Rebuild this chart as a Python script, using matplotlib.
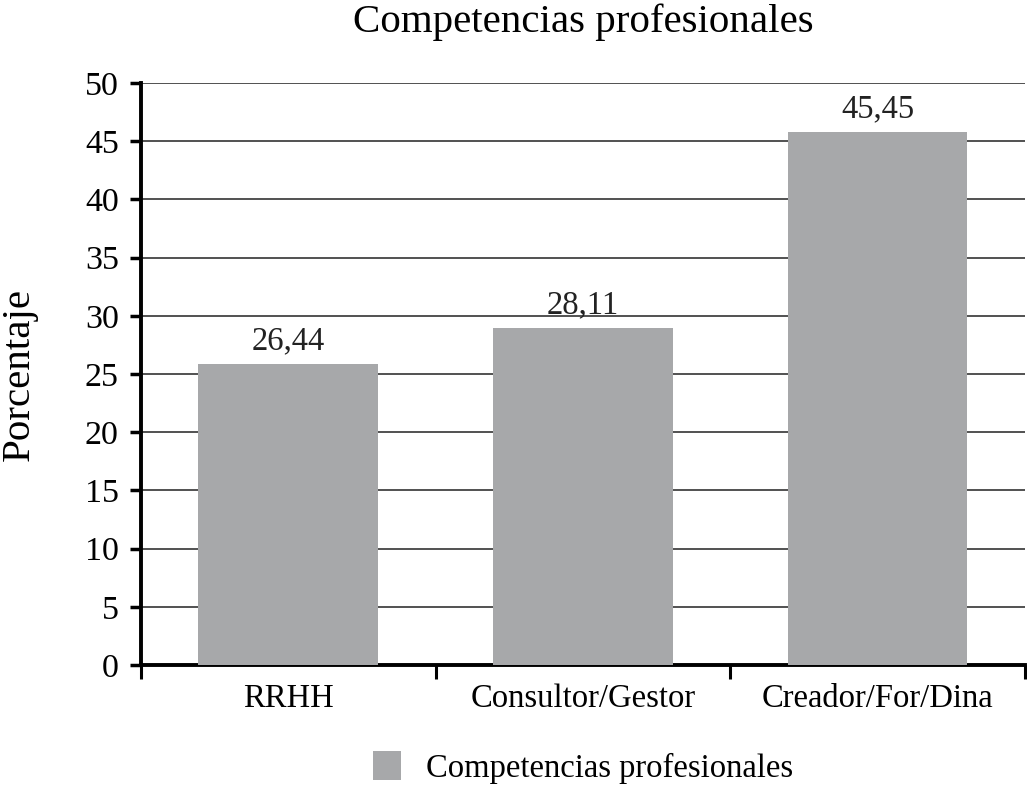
import matplotlib
matplotlib.use("Agg")
import matplotlib.pyplot as plt
from matplotlib.patches import Patch

plt.rcParams['font.family'] = ['Liberation Serif', 'DejaVu Serif']

# data
categories = ["RRHH", "Consultor/Gestor", "Creador/For/Dina"]
bar_heights = [25.9, 28.95, 45.8]
value_labels = ["26,44", "28,11", "45,45"]
y_ticks = [0, 5, 10, 15, 20, 25, 30, 35, 40, 45, 50]

fig = plt.figure(figsize=(10.27, 7.88), dpi=100)
ax = fig.add_axes([0.1373, 0.156, 0.8607, 0.7387])

x = list(range(len(categories)))
ax.bar(x, bar_heights, width=0.61, color="#a7a8aa", zorder=3)

for xi, h, lab in zip(x, bar_heights, value_labels):
    ax.text(xi, h + 0.65, lab, ha="center", va="bottom", fontsize=23.5, color="#222222")

ax.set_xlim(-0.5, 2.5)
ax.set_ylim(0, 50)
ax.set_yticks(y_ticks)
ax.yaxis.grid(True, color="#222222", linewidth=1.1, zorder=0)
ax.set_axisbelow(True)

# category boundaries as tick marks, labels centered on bars
ax.set_xticks([-0.5, 0.5, 1.5, 2.5])
ax.set_xticklabels([])
ax.set_xticks(x, minor=True)
ax.set_xticklabels(categories, minor=True, fontsize=23.5)
ax.tick_params(axis="x", which="major", length=10, width=2.2, direction="out")
ax.tick_params(axis="x", which="minor", length=0, pad=13)
ax.tick_params(axis="y", length=8, width=2.5, direction="out", labelsize=24.5, pad=8)

for s in ["top", "right"]:
    ax.spines[s].set_visible(False)
ax.spines["left"].set_linewidth(2.8)
ax.spines["bottom"].set_linewidth(2.8)

ax.set_ylabel("Porcentaje", fontsize=29.5, labelpad=34)
ax.set_title("Competencias profesionales", fontsize=29.5, pad=37)

handle = Patch(facecolor="#a7a8aa", edgecolor="none")
fig.legend([handle], ["Competencias profesionales"], loc="center",
           bbox_to_anchor=(0.568, 0.026), frameon=False, fontsize=23.5,
           handlelength=0.86, handleheight=0.95, handletextpad=0.77)

fig.savefig("out.png", dpi=100)
